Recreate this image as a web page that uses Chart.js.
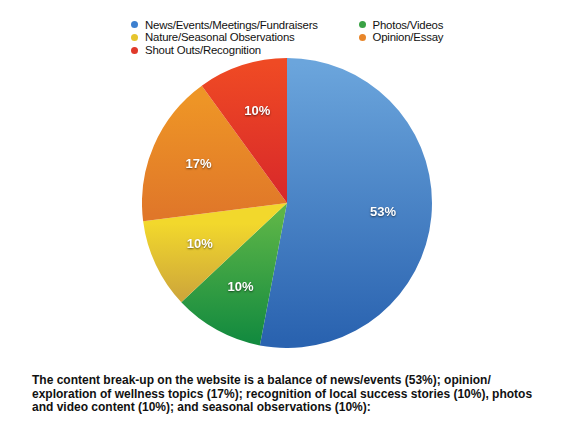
<!DOCTYPE html>
<html lang="en">
<head>
    <meta charset="UTF-8">
    <title>Content break-up</title>
    <script src="https://cdn.jsdelivr.net/npm/chart.js"></script>
    <style>
        html, body { margin: 0; padding: 0; background: #fff; }
        body {
            width: 568px; height: 446px; position: relative; overflow: hidden;
            font-family: 'Liberation Sans', Arial, Helvetica, sans-serif;
            color: #111;
        }
        #legend {
            position: absolute; left: 131px; top: 18.5px; width: 420px;
            display: grid; grid-template-columns: 227.5px 180px;
            font-size: 11.4px; line-height: 12.8px; letter-spacing: -0.2px;
        }
        #legend .item { display: flex; align-items: center; white-space: nowrap; }
        #legend .dot {
            width: 7px; height: 7px; border-radius: 50%; margin-right: 7px; flex: none;
        }
        .chart-box { position: absolute; left: 142px; top: 58px; width: 290px; height: 290px; }
        #caption {
            position: absolute; left: 32px; top: 374px;
            font-size: 12px; line-height: 13.5px; font-weight: bold; letter-spacing: 0;
            white-space: nowrap;
        }
    </style>
</head>
<body>
    <div id="legend"></div>
    <div class="chart-box"><canvas id="pieChart"></canvas></div>
    <div id="caption">The content break-up on the website is a balance of news/events (53%); opinion/<br>exploration of wellness topics (17%); recognition of local success stories (10%), photos<br>and video content (10%); and seasonal observations (10%):</div>

    <script>
        // categories and values
        const labels = ['News/Events/Meetings/Fundraisers', 'Photos/Videos', 'Nature/Seasonal Observations', 'Opinion/Essay', 'Shout Outs/Recognition'];
        const values = [53, 10, 10, 17, 10];

        // colours: legend dot and vertical gradient stops over the pie
        const dotColors = ['#3d80cf', '#3aa245', '#e6c52e', '#e8862a', '#e0392a'];
        const gradStops = [
            [[0.02, '#6ba5dc'], [0.97, '#2a63b0']],
            [[0.54, '#5db547'], [0.97, '#148b3f']],
            [[0.57, '#f2d82c'], [0.82, '#cfa83a']],
            [[0.14, '#ee9526'], [0.54, '#e07729']],
            [[0.02, '#ef4a24'], [0.49, '#d8282a']]
        ];

        // legend
        const legend = document.getElementById('legend');
        labels.forEach((l, i) => {
            const d = document.createElement('div');
            d.className = 'item';
            d.innerHTML = '<span class="dot" style="background:' + dotColors[i] + '"></span>' + l;
            legend.appendChild(d);
        });

        function sliceFill(ctx) {
            const area = ctx.chart.chartArea;
            const i = ctx.dataIndex;
            if (!area) return dotColors[i];
            const g = ctx.chart.ctx.createLinearGradient(0, area.top, 0, area.bottom);
            gradStops[i].forEach(s => g.addColorStop(s[0], s[1]));
            return g;
        }

        // percentage labels inside slices
        const sliceLabels = {
            id: 'sliceLabels',
            afterDatasetsDraw(chart) {
                const c = chart.ctx;
                const total = values.reduce((a, b) => a + b, 0);
                c.save();
                c.font = 'bold 13px "Liberation Sans", Arial, sans-serif';
                c.textAlign = 'center';
                c.textBaseline = 'middle';
                c.fillStyle = '#fff';
                c.shadowColor = 'rgba(0,0,0,0.55)';
                c.shadowBlur = 2;
                c.shadowOffsetX = 0;
                c.shadowOffsetY = 1;
                chart.getDatasetMeta(0).data.forEach((arc, i) => {
                    const p = arc.getProps(['x', 'y', 'startAngle', 'endAngle', 'outerRadius'], true);
                    const mid = (p.startAngle + p.endAngle) / 2;
                    const r = p.outerRadius * 0.665;
                    c.fillText(Math.round(values[i] / total * 100) + '%', p.x + Math.cos(mid) * r, p.y + Math.sin(mid) * r);
                });
                c.restore();
            }
        };

        new Chart(document.getElementById('pieChart'), {
            type: 'pie',
            data: {
                labels: labels,
                datasets: [{
                    data: values,
                    backgroundColor: sliceFill,
                    borderWidth: 0
                }]
            },
            options: {
                responsive: true,
                maintainAspectRatio: false,
                animation: false,
                layout: { padding: 0 },
                plugins: {
                    legend: { display: false },
                    tooltip: { enabled: false }
                }
            },
            plugins: [sliceLabels]
        });
    </script>
</body>
</html>
